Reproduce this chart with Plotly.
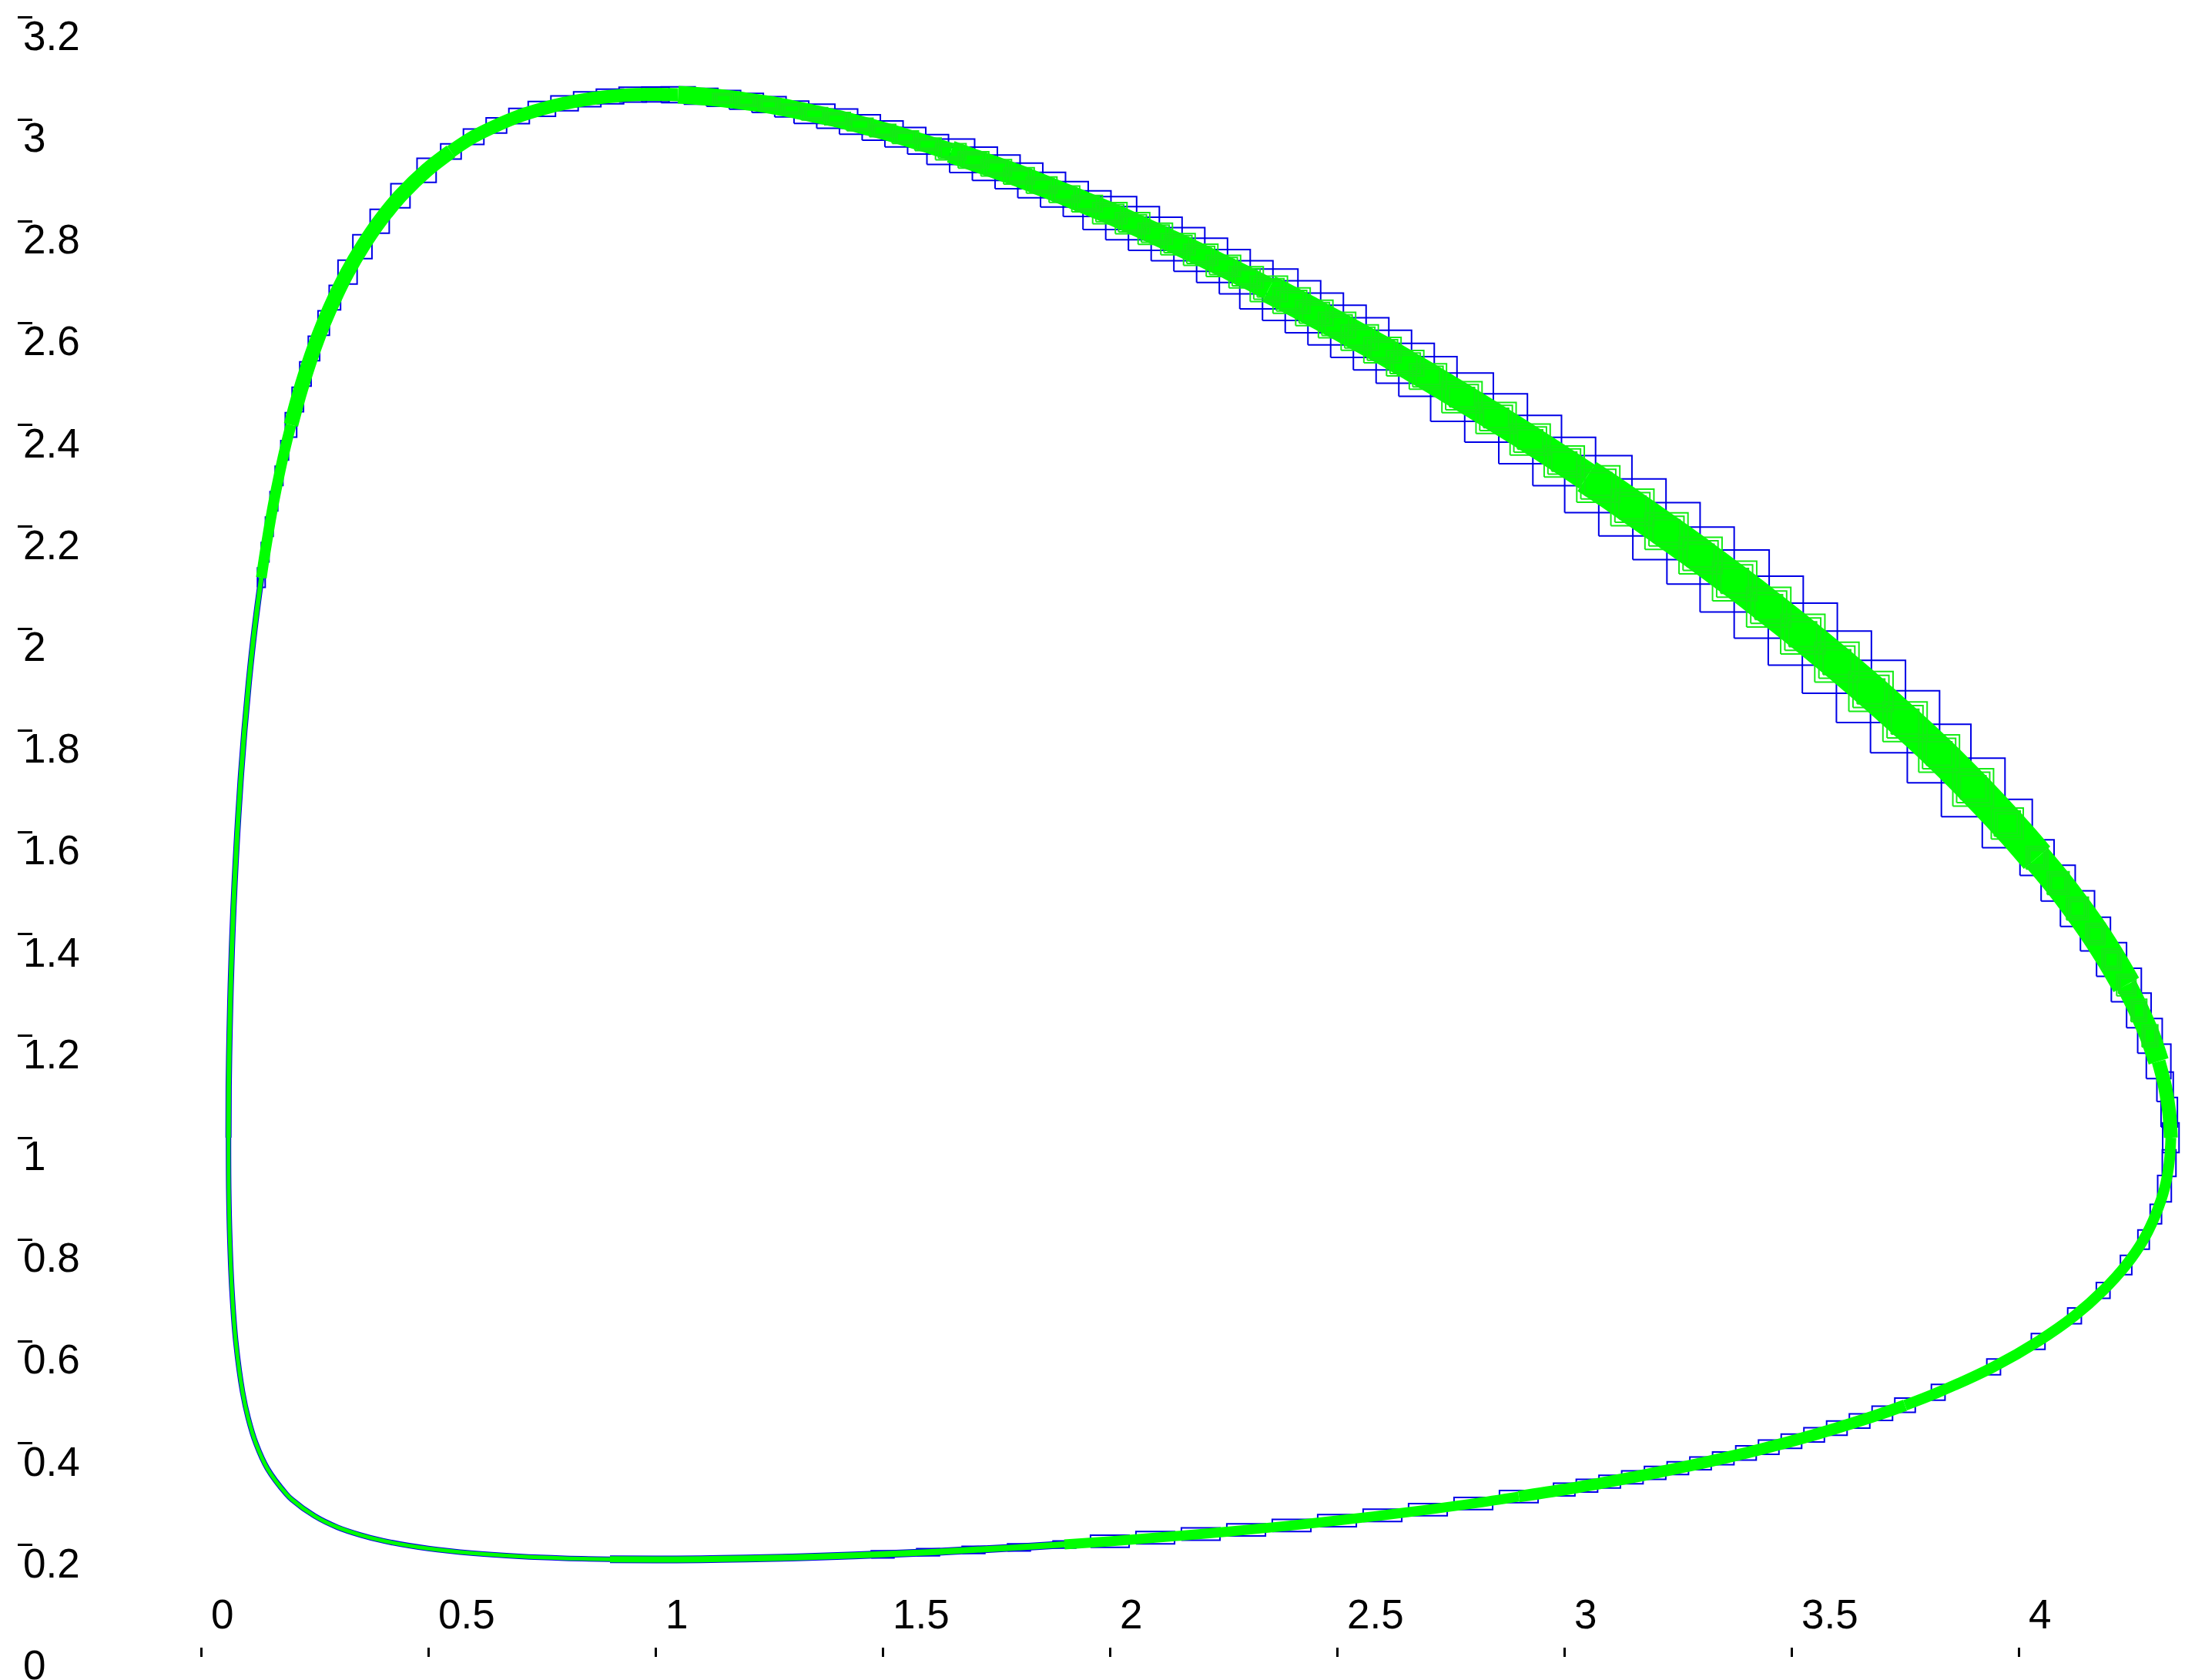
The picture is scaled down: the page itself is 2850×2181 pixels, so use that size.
import plotly.graph_objects as go

# closed orbit in the phase plane, drawn as blue outer boxes and a green inner band
# all values

# left side, going up (x small)
left_side_x = [0.0605, 0.0609, 0.0627, 0.0654, 0.0691, 0.0739, 0.0799, 0.087, 0.0955, 0.1058, 0.118]
left_side_y = [1.0, 1.1, 1.2, 1.3, 1.4, 1.5, 1.6, 1.7, 1.8, 1.9, 2.0]

# upper left arc
left_arc_x = [0.1327, 0.1411, 0.1503, 0.1604, 0.1717, 0.1841, 0.198, 0.213, 0.2298, 0.2486, 0.27,
              0.2946, 0.3225, 0.3552, 0.3932, 0.4389, 0.4964]
left_arc_y = [2.1, 2.15, 2.2, 2.25, 2.3, 2.35, 2.4, 2.45, 2.5, 2.55, 2.6,
              2.65, 2.7, 2.75, 2.8, 2.85, 2.9]
left_arc_w = [0.017] * 6 + [0.025] * 6 + [0.042] * 5
left_arc_h = [0.038] * 6 + [0.048] * 6 + [0.047] * 5

# top
top_x = [0.55, 0.6, 0.65, 0.7, 0.75, 0.8, 0.85, 0.9, 0.95, 1.0, 1.05,
         1.1, 1.15, 1.2, 1.25, 1.3, 1.35, 1.4, 1.45, 1.5, 1.55, 1.6]
top_y = [2.937, 2.966, 2.988, 3.0065, 3.0205, 3.0315, 3.0396, 3.045, 3.0485, 3.049, 3.0485,
         3.0455, 3.0412, 3.0355, 3.029, 3.0205, 3.011, 3.0015, 2.99, 2.978, 2.965, 2.951]
top_w = [0.045] * 4 + [0.06] * 6 + [0.075] * 6 + [0.09] * 6
top_h = [0.03] * 4 + [0.029] * 6 + [0.031] * 6 + [0.038] * 6

# long upper right diagonal
diag_x = [1.65, 1.7, 1.75, 1.8, 1.85, 1.9, 1.95, 2.0, 2.05, 2.1, 2.15, 2.2, 2.25, 2.3,
          2.35, 2.4, 2.45, 2.5, 2.55, 2.6, 2.65, 2.7, 2.75, 2.8, 2.85, 2.9, 2.95, 3.0,
          3.05, 3.1, 3.15, 3.2, 3.25, 3.3, 3.35, 3.4, 3.45, 3.5, 3.55, 3.6, 3.65, 3.7,
          3.75, 3.8, 3.85, 3.9, 3.95, 4.0]
diag_y = [2.9365, 2.9205, 2.905, 2.889, 2.871, 2.853, 2.8345, 2.816, 2.796, 2.7755, 2.755, 2.734, 2.712, 2.69,
          2.667, 2.644, 2.62, 2.596, 2.5715, 2.547, 2.521, 2.495, 2.468, 2.441, 2.4135, 2.3855, 2.357, 2.328,
          2.2985, 2.269, 2.238, 2.207, 2.1755, 2.1433, 2.11, 2.077, 2.042, 2.007, 1.971, 1.934, 1.896, 1.857,
          1.817, 1.776, 1.733, 1.688, 1.641, 1.592]

# boxes on the diagonal (their own spacing)
dbox_x = [1.65, 1.7, 1.75, 1.8, 1.85, 1.9, 1.95, 2.0, 2.05, 2.1, 2.15, 2.2, 2.25, 2.3,
          2.35, 2.4, 2.45, 2.5, 2.55, 2.6, 2.65, 2.7, 2.775, 2.85, 2.925, 3.0,
          3.075, 3.15, 3.225, 3.3, 3.375, 3.45, 3.525, 3.6, 3.675, 3.75, 3.825, 3.9, 3.975]
dbox_y = [2.9365, 2.9205, 2.905, 2.889, 2.871, 2.853, 2.8345, 2.816, 2.796, 2.7755, 2.755, 2.734, 2.712, 2.69,
          2.667, 2.644, 2.62, 2.596, 2.5715, 2.547, 2.521, 2.495, 2.4545, 2.4135, 2.3713, 2.328,
          2.2838, 2.238, 2.1913, 2.1433, 2.0935, 2.042, 1.989, 1.934, 1.8765, 1.817, 1.7545, 1.688, 1.617]
dbox_w = [0.105] * 7 + [0.118] * 7 + [0.128] * 8 + [0.138] * 4 + [0.148] * 4 + [0.152] * 6 + [0.14] * 2 + [0.11]
dbox_h = [0.05] * 7 + [0.065] * 7 + [0.078] * 8 + [0.095] * 4 + [0.112] * 4 + [0.122] * 6 + [0.115] * 2 + [0.095]

# right tip
tip_x = [4.0405, 4.087, 4.1295, 4.169, 4.2045, 4.237, 4.2646, 4.289, 4.308, 4.3223, 4.3314,
         4.335, 4.3312, 4.321, 4.302, 4.275, 4.2365, 4.186, 4.123, 4.043, 3.945, 3.823]
tip_y = [1.55, 1.5, 1.45, 1.4, 1.35, 1.3, 1.25, 1.2, 1.15, 1.1, 1.05,
         1.0, 0.95, 0.9, 0.85, 0.8, 0.75, 0.7, 0.65, 0.6, 0.55, 0.5]
tip_w = [0.075] * 3 + [0.066] * 3 + [0.054] * 3 + [0.036] * 3 + [0.03] * 2 + [0.025] * 3 + [0.03] * 5
tip_h = [0.07] * 3 + [0.066] * 3 + [0.068] * 3 + [0.058] * 3 + [0.052] * 2 + [0.038] * 3 + [0.031] * 5

# lower right branch
lower_x = [3.75, 3.7, 3.65, 3.6, 3.55, 3.5, 3.45, 3.4, 3.35, 3.3, 3.25, 3.2, 3.15, 3.1, 3.05, 3.0]
lower_y = [0.4745, 0.4586, 0.4438, 0.4298, 0.4165, 0.404, 0.3921, 0.381, 0.3704, 0.3603, 0.351,
           0.3417, 0.333, 0.3246, 0.3167, 0.309]
lower_w = [0.045] * 8 + [0.047] * 8
lower_h = [0.028] * 8 + [0.025] * 8

# bottom, going left
bottom_x = [2.9, 2.8, 2.7, 2.6, 2.5, 2.4, 2.3, 2.2, 2.1, 2.0, 1.9, 1.8, 1.7, 1.6, 1.5,
            1.4, 1.3, 1.2, 1.1, 1.0, 0.9, 0.8, 0.7, 0.6, 0.5, 0.4, 0.35, 0.3, 0.25, 0.2]
bottom_y = [0.2952, 0.2816, 0.2695, 0.2584, 0.248, 0.2385, 0.2298, 0.2217, 0.2145, 0.2074, 0.2012,
            0.1955, 0.1906, 0.1858, 0.1818, 0.1784, 0.1756, 0.1735, 0.1722, 0.1716, 0.1722, 0.174,
            0.1776, 0.1837, 0.1932, 0.2085, 0.22, 0.235, 0.257, 0.2893]
bottom_w = [0.085] * 10 + [0.05] * 5
bottom_h = [0.024] * 10 + [0.014] * 5

# lower left corner back to start
left_low_x = [0.188, 0.1463, 0.1207, 0.1037, 0.0916, 0.0765, 0.0681, 0.0634, 0.061, 0.0605]
left_low_y = [0.3, 0.35, 0.4, 0.45, 0.5, 0.6, 0.7, 0.8, 0.9, 1.0]

x_ticks = [0, 0.5, 1, 1.5, 2, 2.5, 3, 3.5, 4]
x_labels = ["0", "0.5", "1", "1.5", "2", "2.5", "3", "3.5", "4"]
y_ticks = [0, 0.2, 0.4, 0.6, 0.8, 1, 1.2, 1.4, 1.6, 1.8, 2, 2.2, 2.4, 2.6, 2.8, 3, 3.2]
y_labels = ["0", "0.2", "0.4", "0.6", "0.8", "1", "1.2", "1.4", "1.6", "1.8",
            "2", "2.2", "2.4", "2.6", "2.8", "3", "3.2"]

BLUE = "rgb(0,0,230)"
GREEN = "#00ff00"
FONT = "Liberation Sans, Arial, sans-serif"


def boxes(xs, ys, ws, hs, k=1.0):
    px, py = [], []
    for x, y, w, h in zip(xs, ys, ws, hs):
        a = w * k / 2
        b = h * k / 2
        px += [x - a, x + a, x + a, x - a, x - a, None]
        py += [y - b, y - b, y + b, y + b, y - b, None]
    return px, py


loop_x = left_side_x + left_arc_x + top_x + diag_x + tip_x + lower_x + bottom_x + left_low_x
loop_y = left_side_y + left_arc_y + top_y + diag_y + tip_y + lower_y + bottom_y + left_low_y

# (first index, last index, green band width in px)
runs = [(0, 11, 6), (11, 17, 14), (17, 28, 19), (28, 38, 17), (38, 50, 23),
        (50, 64, 29), (64, 78, 37), (78, 98, 45), (98, 103, 38), (103, 106, 27),
        (106, 109, 18), (109, 120, 14), (120, 136, 15), (136, 146, 13), (146, 156, 8),
        (156, 175, 5)]

fig = go.Figure()

bx, by = [], []
for xs, ys, ws, hs in [(left_arc_x, left_arc_y, left_arc_w, left_arc_h),
                       (top_x, top_y, top_w, top_h),
                       (dbox_x, dbox_y, dbox_w, dbox_h),
                       (tip_x, tip_y, tip_w, tip_h),
                       (lower_x, lower_y, lower_w, lower_h),
                       (bottom_x[:15], bottom_y[:15], bottom_w, bottom_h)]:
    px, py = boxes(xs, ys, ws, hs)
    bx += px
    by += py
fig.add_trace(go.Scatter(x=bx, y=by, mode="lines", line=dict(color=BLUE, width=2), hoverinfo="skip"))

# thin blue rim along the narrow parts
for a, b, w in runs:
    if w <= 8:
        fig.add_trace(go.Scatter(x=loop_x[a:b + 1], y=loop_y[a:b + 1], mode="lines",
                                 line=dict(color=BLUE, width=w + 2, shape="spline"), hoverinfo="skip"))

for a, b, w in runs:
    fig.add_trace(go.Scatter(x=loop_x[a:b + 1], y=loop_y[a:b + 1], mode="lines",
                             line=dict(color=GREEN, width=w, shape="spline"), hoverinfo="skip"))

# inner (green) enclosures: nested outlines give the hatched look of the band
gx, gy = [], []
for k in (0.4, 0.52, 0.64):
    for xs, ys, ws, hs in [(dbox_x, dbox_y, dbox_w, dbox_h),
                           (tip_x[:8], tip_y[:8], tip_w[:8], tip_h[:8]),
                           (top_x[12:], top_y[12:], top_w[12:], top_h[12:])]:
        px, py = boxes(xs, ys, ws, hs, k=k)
        gx += px
        gy += py
fig.add_trace(go.Scatter(x=gx, y=gy, mode="lines", line=dict(color="rgb(20,235,20)", width=2),
                         hoverinfo="skip"))

ann = []
for v, t in zip(x_ticks, x_labels):
    ann.append(dict(x=v, y=0, xref="x", yref="y", text=t, showarrow=False,
                    xanchor="left", yanchor="bottom", xshift=11, yshift=11,
                    font=dict(family=FONT, size=53, color="black")))
for v, t in zip(y_ticks, y_labels):
    ann.append(dict(x=0, y=v, xref="paper", yref="y", text=t, showarrow=False,
                    xanchor="left", yanchor="top", xshift=5, yshift=8,
                    font=dict(family=FONT, size=53, color="black")))

fig.update_layout(
    width=2850, height=2181,
    margin=dict(l=23, r=0, t=0, b=43),
    paper_bgcolor="white", plot_bgcolor="white",
    showlegend=False,
    annotations=ann,
    xaxis=dict(range=[-0.40339, 4.38814], tickvals=x_ticks, ticks="outside", ticklen=12,
               tickwidth=3, tickcolor="black", showticklabels=False, showline=False,
               showgrid=False, zeroline=False),
    yaxis=dict(range=[0, 3.2345], tickvals=y_ticks, ticks="inside", ticklen=19,
               tickwidth=3, tickcolor="black", showticklabels=False, showline=False,
               showgrid=False, zeroline=False),
)

fig.write_html("out.html", config={"displayModeBar": False},
               post_script="document.body.style.margin='0';")
